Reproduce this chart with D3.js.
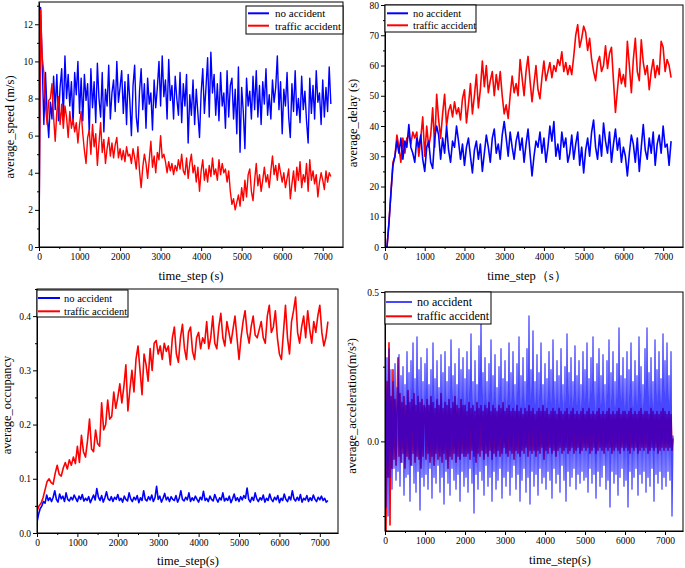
<!DOCTYPE html>
<html>
<head>
<meta charset="utf-8">
<script src="https://cdn.jsdelivr.net/npm/d3@7"></script>
<style>
  body { margin: 0; background: #fff; }
  svg { display: block; font-family: "Liberation Serif", "Times New Roman", serif; }
  .tick text { font-family: "Liberation Serif", "Times New Roman", serif; font-size: 9.5px; fill: #000; }
  .domain, .tick line { stroke: #000; }
</style>
</head>
<body>
<div id="chart"></div>
<script>
// time steps (s) and series
const speedStep = 40;
const speedNo = [
  0, 12.9, 9.8, 6.6, 9.4, 7.2, 5.9, 7.8, 6.9, 9.2, 7.4, 9.3, 6.8, 8.6, 9.6, 7.0, 10.3, 8.0, 9.3, 7.6, 8.9, 6.6, 9.4, 8.2, 10.0,
  7.2, 9.1, 6.8, 9.3, 7.9, 8.8, 6.1, 9.6, 7.5, 8.9, 6.7, 9.9, 8.0, 7.0, 9.4, 6.2, 8.5, 7.6, 9.8, 6.9, 8.3, 9.0, 7.3, 10.0, 7.8,
  8.6, 9.5, 7.2, 8.9, 6.6, 9.3, 7.9, 6.0, 8.7, 9.8, 7.0, 6.2, 8.4, 9.6, 7.4, 8.8, 6.4, 9.1, 7.7, 8.3, 6.3, 9.0, 7.5, 8.6, 10.0,
  7.6, 10.3, 8.1, 9.0, 6.9, 10.1, 7.9, 8.7, 6.9, 9.2, 8.0, 7.1, 9.4, 6.7, 8.8, 7.6, 9.3, 5.6, 8.2, 7.1, 9.0, 6.6, 8.5, 7.2, 5.9,
  8.3, 9.6, 7.2, 8.6, 10.2, 7.0, 10.5, 8.3, 9.3, 7.1, 8.8, 6.8, 9.4, 7.6, 8.3, 6.4, 9.5, 7.0, 8.7, 9.1, 6.9, 8.5, 6.1, 9.7, 5.1,
  8.6, 7.3, 5.3, 9.1, 7.6, 8.4, 6.9, 9.2, 7.4, 9.5, 7.0, 8.7, 6.6, 8.9, 7.7, 9.6, 7.1, 8.2, 6.9, 9.0, 7.8, 8.6, 10.3, 7.4, 8.9,
  6.1, 8.5, 7.6, 9.4, 7.0, 5.9, 8.8, 7.3, 9.5, 7.1, 8.0, 6.7, 9.2, 7.4, 8.4, 6.8, 5.6, 9.1, 7.2, 8.7, 6.9, 9.5, 7.8, 8.3, 6.6,
  9.0, 7.0, 8.6, 7.3, 9.7, 7.7
];
const speedAcc = [
  0, 12.8, 10.2, 9.4, 7.6, 6.6, 7.9, 8.0, 8.8, 7.0, 5.7, 7.3, 8.1, 6.6, 7.7, 6.4, 7.6, 7.0, 5.9, 7.3, 6.4, 6.9, 6.2, 6.7, 5.6,
  6.6, 7.3, 6.1, 5.2, 4.5, 5.9, 6.3, 5.0, 6.6, 5.4, 6.1, 4.4, 5.6, 6.7, 5.1, 5.8, 4.5, 5.3, 5.9, 4.9, 5.6, 4.8, 5.5, 5.9, 4.8,
  5.3, 4.7, 5.2, 4.6, 5.4, 4.9, 5.0, 4.5, 5.3, 4.8, 4.2, 5.4, 4.1, 3.2, 4.3, 5.0, 4.5, 3.7, 4.7, 5.7, 4.3, 4.9, 4.0, 5.1, 4.7,
  6.0, 4.8, 5.0, 4.6, 4.0, 4.6, 4.1, 4.5, 3.9, 4.4, 4.1, 4.7, 4.2, 5.0, 4.1, 3.9, 4.8, 3.7, 4.5, 5.0, 4.0, 4.4, 3.5, 4.3, 3.0,
  4.1, 4.7, 3.6, 4.2, 3.5, 4.4, 3.8, 4.8, 3.9, 4.2, 3.6, 4.7, 3.9, 4.5, 4.0, 4.2, 3.5, 4.1, 3.0, 2.3, 2.6, 2.0, 2.4, 2.8, 2.2,
  3.2, 2.5, 3.6, 2.7, 3.9, 4.2, 3.0, 2.5, 3.6, 4.5, 3.3, 3.9, 3.0, 3.6, 4.3, 3.5, 3.9, 3.2, 4.1, 4.9, 3.9, 4.4, 3.6, 4.5, 4.0,
  3.5, 4.0, 3.2, 3.7, 4.2, 2.6, 3.4, 4.1, 3.0, 4.3, 3.6, 4.6, 3.2, 3.9, 3.5, 4.5, 3.0, 4.7, 3.6, 4.1, 3.4, 3.9, 2.7, 3.5, 4.0,
  3.6, 3.1, 4.1, 3.5, 4.0, 3.8
];

const delayStep = 50;
const delayNo = [
  0, 0, 8, 18, 27, 30, 35, 31, 36, 29, 35, 33, 40.5, 33, 31, 28, 36, 33, 37, 29,
  25, 33, 35, 28, 26, 36, 40, 37, 29, 36, 31, 40, 32, 28, 35, 33, 40, 35, 29, 34,
  27, 33, 36, 30, 24.5, 32, 35, 29, 34, 25, 31, 37, 33, 28, 36, 39, 31, 34, 29, 37,
  41.5, 36, 30, 38, 33, 29, 35, 38, 32, 36, 28, 34, 39, 31, 23.5, 30, 35, 33, 38, 31,
  36, 28, 33, 40, 35, 41.5, 30, 34, 29, 38, 33, 36, 28, 31, 37, 29, 34, 38, 27, 33,
  24.5, 32, 36, 30, 38, 42, 33, 29, 37, 30, 41, 35, 31, 38, 28, 34, 39, 32, 36, 28,
  33, 30, 23.5, 31, 37, 34, 28, 36, 25, 33, 40.5, 32, 29, 36, 31, 38, 27, 34, 37, 31,
  40, 33, 34, 27, 35
];
const delayAcc = [
  0, 0, 8, 18, 28, 30, 37, 33, 28, 36, 31, 36, 37, 34, 38, 36, 38, 30, 36, 43,
  30, 40, 33, 37, 46, 33, 50.5, 42, 36, 44, 50.5, 40, 45, 47, 43, 48, 44, 46, 42, 49,
  52, 41, 47, 54, 44, 50, 57, 46, 52, 61.5, 53, 60, 51, 55, 58, 50, 57, 52, 58, 50,
  44, 47, 42.5, 50, 56.5, 51, 54, 50, 62, 56, 50, 58, 63, 55, 48, 54, 60, 52, 49, 56,
  61.5, 55, 58, 61, 56, 60, 58, 62, 60, 64.5, 58, 61, 57, 60, 57, 63, 70, 73.5, 66, 69,
  73, 71, 65, 69, 62, 58, 55, 61, 63, 58, 60, 66.5, 59, 64, 66, 55, 44.5, 52, 59, 54,
  57, 53, 68, 60, 51, 62, 69, 58, 55, 68.5, 61, 57, 60, 52, 58, 62, 56, 60, 57, 68,
  66, 58, 62, 60, 56
];

const occNoStep = 40;
const occNo = [
  0.02, 0.035, 0.045, 0.05, 0.058, 0.055, 0.07, 0.06, 0.065, 0.058, 0.066, 0.078, 0.062, 0.057, 0.072, 0.063, 0.068, 0.058, 0.074, 0.062, 0.059, 0.066, 0.061, 0.07, 0.064,
  0.058, 0.068, 0.062, 0.071, 0.059, 0.064, 0.06, 0.067, 0.056, 0.063, 0.07, 0.061, 0.082, 0.066, 0.06, 0.069, 0.057, 0.065, 0.076, 0.063, 0.06, 0.067, 0.058, 0.066, 0.062,
  0.071, 0.06, 0.064, 0.057, 0.068, 0.062, 0.059, 0.074, 0.063, 0.058, 0.066, 0.061, 0.069, 0.056, 0.065, 0.06, 0.078, 0.062, 0.059, 0.067, 0.061, 0.07, 0.058, 0.065, 0.086,
  0.062, 0.068, 0.057, 0.064, 0.073, 0.061, 0.066, 0.058, 0.067, 0.062, 0.06, 0.069, 0.057, 0.064, 0.078, 0.062, 0.059, 0.066, 0.061, 0.074, 0.058, 0.065, 0.06, 0.068, 0.062,
  0.057, 0.066, 0.061, 0.077, 0.06, 0.064, 0.058, 0.068, 0.062, 0.059, 0.071, 0.063, 0.057, 0.065, 0.061, 0.074, 0.059, 0.064, 0.06, 0.068, 0.056, 0.063, 0.072, 0.06, 0.065,
  0.058, 0.067, 0.061, 0.069, 0.064, 0.083, 0.062, 0.057, 0.066, 0.06, 0.074, 0.063, 0.058, 0.065, 0.061, 0.07, 0.057, 0.064, 0.06, 0.072, 0.062, 0.058, 0.066, 0.061, 0.069,
  0.056, 0.064, 0.06, 0.072, 0.062, 0.058, 0.067, 0.061, 0.078, 0.063, 0.059, 0.066, 0.06, 0.071, 0.057, 0.064, 0.061, 0.069, 0.058, 0.065, 0.06, 0.07, 0.062, 0.058, 0.066,
  0.061, 0.068, 0.06, 0.064, 0.057, 0.06
];
const occAccStep = 50;
const occAcc = [
  0.04, 0.05, 0.055, 0.065, 0.08, 0.095, 0.1, 0.093, 0.09, 0.11, 0.125, 0.108, 0.105, 0.12, 0.13, 0.118, 0.135, 0.125, 0.14, 0.128,
  0.16, 0.13, 0.18, 0.15, 0.14, 0.17, 0.21, 0.155, 0.15, 0.19, 0.165, 0.16, 0.24, 0.19, 0.2, 0.245, 0.21, 0.215, 0.26, 0.23,
  0.25, 0.275, 0.24, 0.27, 0.31, 0.225, 0.265, 0.3, 0.26, 0.32, 0.345, 0.3, 0.255, 0.33, 0.31, 0.28, 0.34, 0.3, 0.35, 0.355,
  0.33, 0.345, 0.32, 0.35, 0.335, 0.345, 0.31, 0.36, 0.38, 0.33, 0.315, 0.36, 0.385, 0.34, 0.32, 0.37, 0.38, 0.335, 0.32, 0.36,
  0.37, 0.34, 0.36, 0.35, 0.39, 0.34, 0.36, 0.4, 0.35, 0.34, 0.38, 0.405, 0.36, 0.345, 0.39, 0.37, 0.35, 0.375, 0.4, 0.36,
  0.32, 0.36, 0.39, 0.41, 0.37, 0.35, 0.38, 0.4, 0.365, 0.36, 0.375, 0.39, 0.36, 0.35, 0.4, 0.42, 0.37, 0.38, 0.41, 0.36,
  0.33, 0.32, 0.37, 0.42, 0.36, 0.33, 0.39, 0.41, 0.435, 0.37, 0.35, 0.38, 0.4, 0.36, 0.41, 0.375, 0.35, 0.39, 0.37, 0.4,
  0.42, 0.37, 0.345, 0.36, 0.39
];

const accelStep = 25;
const accelNo = [
  0.35, -0.22, 0.28, -0.25, 0.31, -0.12, 0.24, -0.16, 0.2, -0.09, 0.26, -0.13, 0.18, -0.1, 0.29, -0.15, 0.22, -0.07, 0.25, -0.18, 0.19, -0.12, 0.3, -0.11, 0.23, -0.2, 0.27, -0.08, 0.33, -0.14, 0.21, -0.17, 0.35, -0.1, 0.24, -0.23, 0.28, -0.12, 0.2, -0.15,
  0.26, -0.11, 0.31, -0.16, 0.19, -0.09, 0.24, -0.19, 0.33, -0.12, 0.21, -0.14, 0.27, -0.08, 0.18, -0.17, 0.29, -0.12, 0.23, -0.21, 0.3, -0.1, 0.2, -0.14, 0.25, -0.18, 0.34, -0.09, 0.22, -0.13, 0.26, -0.16, 0.19, -0.11, 0.31, -0.2, 0.24, -0.1, 0.28, -0.15,
  0.21, -0.12, 0.3, -0.17, 0.24, -0.09, 0.36, -0.14, 0.2, -0.24, 0.27, -0.11, 0.19, -0.16, 0.32, -0.1, 0.41, -0.13, 0.23, -0.18, 0.28, -0.08, 0.2, -0.15, 0.26, -0.12, 0.34, -0.2, 0.22, -0.1, 0.29, -0.16, 0.18, -0.13, 0.25, -0.09, 0.31, -0.19, 0.21, -0.12,
  0.27, -0.15, 0.2, -0.1, 0.33, -0.18, 0.23, -0.12, 0.3, -0.08, 0.19, -0.16, 0.26, -0.11, 0.35, -0.2, 0.22, -0.13, 0.28, -0.09, 0.2, -0.17, 0.31, -0.12, 0.42, -0.21, 0.24, -0.1, 0.37, -0.15, 0.2, -0.11, 0.29, -0.18, 0.23, -0.09, 0.33, -0.14, 0.19, -0.12,
  0.26, -0.16, 0.21, -0.1, 0.3, -0.13, 0.24, -0.19, 0.34, -0.09, 0.2, -0.14, 0.27, -0.11, 0.22, -0.17, 0.31, -0.08, 0.19, -0.13, 0.25, -0.2, 0.36, -0.1, 0.23, -0.15, 0.28, -0.12, 0.2, -0.09, 0.32, -0.16, 0.22, -0.11, 0.27, -0.14, 0.19, -0.1, 0.3, -0.13,
  0.24, -0.12, 0.33, -0.17, 0.21, -0.09, 0.28, -0.14, 0.35, -0.11, 0.2, -0.19, 0.26, -0.1, 0.31, -0.15, 0.22, -0.12, 0.29, -0.08, 0.19, -0.16, 0.27, -0.13, 0.34, -0.22, 0.23, -0.1, 0.3, -0.14, 0.2, -0.11, 0.26, -0.18, 0.38, -0.12, 0.22, -0.09, 0.28, -0.15,
  0.21, -0.13, 0.3, -0.22, 0.24, -0.1, 0.33, -0.16, 0.2, -0.12, 0.27, -0.09, 0.22, -0.18, 0.35, -0.11, 0.25, -0.14, 0.19, -0.1, 0.31, -0.17, 0.38, -0.12, 0.23, -0.15, 0.28, -0.09, 0.2, -0.2, 0.34, -0.11, 0.24, -0.14, 0.3, -0.1, 0.21, -0.16, 0.36, -0.12,
  0.27, -0.15, 0.33, -0.1, 0.22, -0.13, 0.3, -0.25, 0.02
];
const accelAcc = [
  0.38, -0.3, 0.2, -0.12, 0.33, -0.28, 0.15, -0.09, 0.24, -0.06, 0.14, -0.08, 0.12, 0.28, -0.05, 0.16, -0.07, 0.13, -0.04, 0.15, -0.09, 0.12, -0.05, 0.17, -0.06, 0.13, -0.08, 0.14, -0.04, 0.16, -0.07, 0.12, -0.05, 0.15, -0.06, 0.13, -0.09, 0.14, -0.05, 0.12,
  0.11, -0.06, 0.14, -0.04, 0.12, -0.07, 0.15, -0.05, 0.13, -0.08, 0.11, -0.04, 0.14, -0.06, 0.12, -0.05, 0.16, -0.07, 0.11, -0.04, 0.13, -0.06, 0.12, -0.09, 0.14, -0.05, 0.11, -0.06, 0.13, -0.04, 0.15, -0.07, 0.12, -0.05, 0.11, -0.06, 0.14, -0.04, 0.12, -0.05,
  0.12, -0.05, 0.1, -0.04, 0.13, -0.06, 0.11, -0.03, 0.12, -0.05, 0.1, -0.07, 0.13, -0.04, 0.11, -0.05, 0.12, -0.03, 0.1, -0.06, 0.12, -0.04, 0.11, -0.05, 0.13, -0.03, 0.1, -0.06, 0.12, -0.04, 0.11, -0.05, 0.1, -0.03, 0.12, -0.05, 0.11, -0.04, 0.13, -0.02,
  0.1, -0.04, 0.11, -0.05, 0.12, -0.03, 0.1, -0.04, 0.11, -0.06, 0.1, -0.03, 0.12, -0.04, 0.1, -0.05, 0.11, -0.03, 0.09, -0.04, 0.11, -0.02, 0.1, -0.05, 0.12, -0.03, 0.1, -0.04, 0.11, -0.03, 0.09, -0.05, 0.1, -0.03, 0.11, -0.04, 0.1, -0.02, 0.12, -0.06,
  0.1, -0.03, 0.11, -0.04, 0.09, -0.02, 0.1, -0.04, 0.11, -0.03, 0.1, -0.05, 0.09, -0.03, 0.11, -0.02, 0.1, -0.04, 0.09, -0.03, 0.1, -0.02, 0.11, -0.04, 0.09, -0.03, 0.1, -0.02, 0.11, -0.04, 0.09, -0.03, 0.1, -0.02, 0.09, -0.04, 0.1, -0.03, 0.11, -0.02,
  0.09, -0.03, 0.1, -0.02, 0.11, -0.04, 0.09, -0.03, 0.1, -0.02, 0.09, -0.04, 0.1, -0.03, 0.11, -0.02, 0.09, -0.03, 0.1, -0.04, 0.09, -0.02, 0.1, -0.03, 0.11, -0.02, 0.09, -0.04, 0.1, -0.03, 0.09, -0.02, 0.1, -0.03, 0.11, -0.04, 0.09, -0.02, 0.1, -0.03,
  0.1, -0.02, 0.09, -0.03, 0.1, -0.04, 0.11, -0.02, 0.09, -0.03, 0.1, -0.02, 0.09, -0.04, 0.1, -0.03, 0.11, -0.02, 0.09, -0.03, 0.1, -0.02, 0.1, -0.04, 0.09, -0.03, 0.11, -0.02, 0.1, -0.03, 0.09, -0.02, 0.1, -0.04, 0.09, -0.03, 0.1, -0.02, 0.11, -0.03,
  0.1, -0.02, 0.09, -0.03, 0.1, -0.02, 0.09, -0.03, 0.01
];

const legendNames = ["no accident", "traffic accident"];
const xTicks = [0, 1000, 2000, 3000, 4000, 5000, 6000, 7000];
const xMinor = [500, 1500, 2500, 3500, 4500, 5500, 6500, 7500];

const w = 685;
const h = 568;
const svg = d3.select("#chart").append("svg")
    .attr("width", w)
    .attr("height", h);

const panels = [
  {id: "speed", box: [39, 343, 2, 247], xMax: 7500, yDom: [0, 13.2],
   yTicks: [0, 2, 4, 6, 8, 10, 12], yMinor: [1, 3, 5, 7, 9, 11, 13], fmt: d3.format("d"),
   series: [[speedNo, speedStep, "#0000ff", 1.4, 1], [speedAcc, speedStep, "#ff0000", 1.4, 1]],
   order: [0, 1],
   xTitle: "time_step (s)", xT: [191, 276], yTitle: "average_speed (m/s)", yT: [10, 127],
   legend: {box: [246, 343, 6, 34], line: [248, 269], ys: [13.3, 25.7], tx: 275, fs: 11}},
  {id: "delay", box: [385, 683, 5, 247], xMax: 7500, yDom: [0, 80],
   yTicks: d3.range(0, 81, 10), yMinor: d3.range(5, 80, 10), fmt: d3.format("d"),
   series: [[delayNo, delayStep, "#0000ff", 1.6, 1], [delayAcc, delayStep, "#ff0000", 1.6, 1]],
   order: [1, 0],
   xTitle: "time_step\uff08s\uff09", xT: [527, 276], yTitle: "average_delay (s)", yT: [353, 123],
   legend: {box: [385, 476, 5, 32], line: [387, 408], ys: [13.3, 25.3], tx: 413, fs: 10.5}},
  {id: "occ", box: [37, 338, 289, 533], xMax: 7450, yDom: [0, 0.45],
   yTicks: [0, 0.1, 0.2, 0.3, 0.4], yMinor: [0.05, 0.15, 0.25, 0.35, 0.45], fmt: d3.format(".1f"),
   series: [[occNo, occNoStep, "#0000ff", 1.6, 1], [occAcc, occAccStep, "#ff0000", 1.6, 1]],
   order: [1, 0],
   xTitle: "time_step(s)", xT: [188, 561], yTitle: "average_occupancy", yT: [7, 405],
   legend: {box: [37, 128, 290, 317], line: [38, 60], ys: [298, 311.3], tx: 64, fs: 10.5}},
  {id: "accel", box: [385, 683, 292, 531], xMax: 7450, yDom: [-0.3, 0.5],
   yTicks: [0, 0.5], yMinor: [-0.25, 0.25], fmt: d3.format(".1f"),
   series: [[accelNo, accelStep, "#0000ff", 1.3, 0.72], [accelAcc, accelStep, "#ff0000", 1.6, 1]],
   order: [1, 0],
   xTitle: "time_step(s)", xT: [560, 560], yTitle: "average_acceleration(m/s\u00b2)", yT: [352, 406],
   legend: {box: [385, 491, 292, 324], line: [386, 412], ys: [302, 316.3], tx: 417, fs: 12}}
];

panels.forEach(p => {
  const [x0, x1, y0, y1] = p.box;
  const x = d3.scaleLinear().domain([0, p.xMax]).range([x0, x1]);
  const y = d3.scaleLinear().domain(p.yDom).range([y1, y0]);
  const g = svg.append("g").attr("id", p.id);

  g.append("clipPath").attr("id", "clip-" + p.id)
    .append("rect").attr("x", x0).attr("y", y0).attr("width", x1 - x0).attr("height", y1 - y0);

  const plot = g.append("g").attr("clip-path", `url(#clip-${p.id})`);
  p.order.forEach(i => {
    const [vals, step, color, sw, op] = p.series[i];
    const line = d3.line()
        .x((d, k) => x(k * step))
        .y(d => y(d));
    plot.append("path")
        .datum(vals)
        .attr("fill", "none")
        .attr("stroke", color)
        .attr("stroke-width", sw)
        .attr("stroke-opacity", op)
        .attr("stroke-linejoin", "round")
        .attr("d", line);
  });

  // frame
  g.append("rect")
    .attr("x", x0).attr("y", y0).attr("width", x1 - x0).attr("height", y1 - y0)
    .attr("fill", "none").attr("stroke", "#000").attr("stroke-width", 1);

  // axes (major ticks labelled, minor ticks halfway)
  g.append("g").attr("transform", `translate(0,${y1})`)
    .call(d3.axisBottom(x).tickValues(xMinor.filter(v => v < p.xMax)).tickSize(2).tickSizeOuter(0).tickFormat(""))
    .select(".domain").remove();
  g.append("g").attr("transform", `translate(0,${y1})`)
    .call(d3.axisBottom(x).tickValues(xTicks).tickSize(4).tickSizeOuter(0).tickPadding(2).tickFormat(d3.format("d")))
    .attr("font-family", null);
  g.append("g").attr("transform", `translate(${x0},0)`)
    .call(d3.axisLeft(y).tickValues(p.yMinor.filter(v => v <= p.yDom[1])).tickSize(2).tickSizeOuter(0).tickFormat(""))
    .select(".domain").remove();
  g.append("g").attr("transform", `translate(${x0},0)`)
    .call(d3.axisLeft(y).tickValues(p.yTicks).tickSize(4).tickSizeOuter(0).tickPadding(2).tickFormat(p.fmt))
    .attr("font-family", null);

  // titles
  g.append("text")
    .attr("x", p.xT[0]).attr("y", p.xT[1])
    .attr("text-anchor", "middle").attr("dominant-baseline", "central")
    .attr("font-size", 12.5)
    .text(p.xTitle);
  g.append("text")
    .attr("transform", `translate(${p.yT[0]},${p.yT[1]}) rotate(-90)`)
    .attr("text-anchor", "middle").attr("dominant-baseline", "central")
    .attr("font-size", 12.5)
    .text(p.yTitle);

  // legend
  const L = p.legend;
  const lg = g.append("g");
  lg.append("rect")
    .attr("x", L.box[0]).attr("y", L.box[2])
    .attr("width", L.box[1] - L.box[0]).attr("height", L.box[3] - L.box[2])
    .attr("fill", "#fff").attr("stroke", "#000").attr("stroke-width", 1);
  legendNames.forEach((name, i) => {
    lg.append("line")
      .attr("x1", L.line[0]).attr("x2", L.line[1])
      .attr("y1", L.ys[i]).attr("y2", L.ys[i])
      .attr("stroke", p.series[i][2])
      .attr("stroke-opacity", p.series[i][4])
      .attr("stroke-width", 2);
    lg.append("text")
      .attr("x", L.tx).attr("y", L.ys[i])
      .attr("dominant-baseline", "central")
      .attr("font-size", L.fs)
      .text(name);
  });
});
</script>
</body>
</html>
